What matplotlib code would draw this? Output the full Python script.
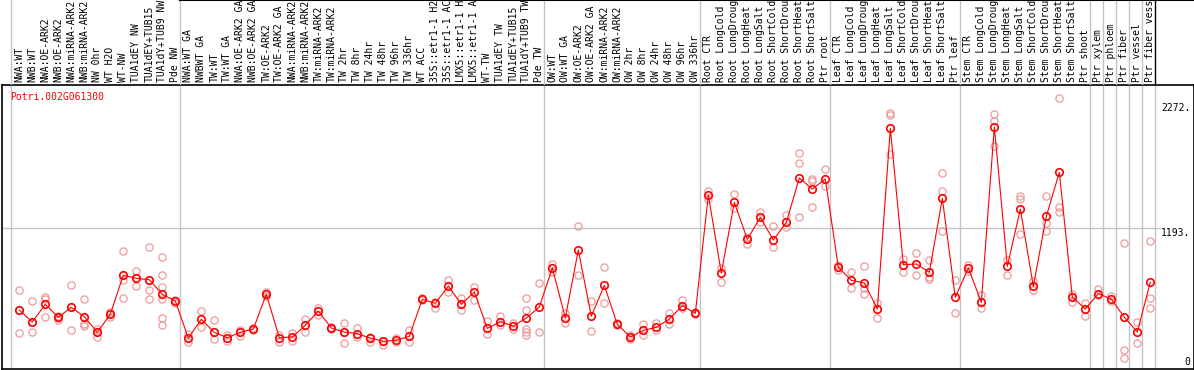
import matplotlib
matplotlib.use("Agg")
import matplotlib.pyplot as plt
from matplotlib.transforms import blended_transform_factory

# ---- data ----
gene = "Potri.002G061300"

labels = [
    "NWA:WT", "NWB:WT", "NWA:OE-ARK2", "NWB:OE-ARK2", "NWA:miRNA-ARK2", "NWB:miRNA-ARK2",
    "NW 0hr", "WT H2O", "WT-NW", "TUA1dEY NW", "TUA1dEY+TUB15", "TUA1dY+TUB9 NW", "Pde NW",
    "NWA:WT GA", "NWBWT GA", "TW:WT", "TW:WT GA", "NWA:OE-ARK2 GA", "NWB:OE-ARK2 GA",
    "TW:OE-ARK2", "TW:OE-ARK2 GA", "NWA:miRNA-ARK2", "NWB:miRNA-ARK2", "TW:miRNA-ARK2",
    "TW:miRNA-ARK2", "TW 2hr", "TW 8hr", "TW 24hr", "TW 48hr", "TW 96hr", "TW 336hr",
    "WT ACC", "35S::etr1-1 H2", "35S::etr1-1 AC", "LMX5::etr1-1 H", "LMX5::etr1-1 A",
    "WT-TW", "TUA1dEY TW", "TUA1dEY+TUB15", "TUA1dY+TUB9 TW", "Pde TW",
    "OW:WT", "OW:WT GA", "OW:OE-ARK2", "OW:OE-ARK2 GA", "OW:miRNA-ARK2", "OW:miRNA-ARK2",
    "OW 2hr", "OW 8hr", "OW 24hr", "OW 48hr", "OW 96hr", "OW 336hr",
    "Root CTR", "Root LongCold", "Root LongDroug", "Root LongHeat", "Root LongSalt",
    "Root ShortCold", "Root ShortDrou", "Root ShortHeat", "Root ShortSalt", "Ptr root",
    "Leaf CTR", "Leaf LongCold", "Leaf LongDroug", "Leaf LongHeat", "Leaf LongSalt",
    "Leaf ShortCold", "Leaf ShortDrou", "Leaf ShortHeat", "Leaf ShortSalt", "Ptr leaf",
    "Stem CTR", "Stem LongCold", "Stem LongDroug", "Stem LongHeat", "Stem LongSalt",
    "Stem ShortCold", "Stem ShortDrou", "Stem ShortHeat", "Stem ShortSalt", "Ptr shoot",
    "Ptr xylem", "Ptr phloem", "Ptr fiber", "Ptr vessel", "Ptr fiber vess",
]

means = [
    490, 387, 539, 427, 513, 432, 298, 453, 788, 762, 750, 625, 567,
    249, 410, 298, 252, 298, 326, 625, 252, 258, 358, 481, 335, 301, 286, 249,
    221, 229, 264, 582, 547, 696, 539, 644, 332, 389, 352, 421, 515,
    851, 421, 1005, 436, 702, 367, 258, 315, 341, 412, 527, 461,
    1478, 808, 1415, 1097, 1286, 1091, 1243, 1624, 1529, 1615,
    857, 745, 722, 498, 2051, 879, 885, 814, 1449, 599,
    851, 556, 2062, 865, 1357, 693, 1295, 1673, 601, 498,
    630, 584, 427, 301, 730,
]

reps = [
    [662, 490, 290], [567, 387, 298], [604, 582, 432], [438, 421, 404],
    [704, 513, 315], [582, 367, 352], [326, 298, 255], [475, 453, 432],
    [999, 747, 595], [825, 762, 696], [1028, 750, 662, 582],
    [942, 788, 690, 587, 418, 358], [576, 547],
    [283, 215], [481, 346], [404, 238], [275, 226], [318, 266], [335, 318],
    [644, 610], [275, 217], [295, 223], [412, 301], [504, 447], [345, 325],
    [381, 301, 204], [338, 260], [260, 215], [226, 186], [247, 215], [318, 217],
    [590, 575], [561, 504], [747, 647], [590, 490], [690, 576], [395, 281],
    [438, 361], [381, 324], [593, 490, 324, 303, 275], [724, 298],
    [882, 819], [461, 381], [1209, 788], [567, 309], [857, 550], [375, 360],
    [275, 238], [367, 275], [381, 318], [466, 369], [576, 504], [470, 455],
    [1515, 1441], [848, 728], [1484, 1363], [1119, 1057], [1332, 1248],
    [1211, 1034], [1306, 1200], [1836, 1750, 1286], [1615, 1598, 1377], [1701, 1555],
    [876, 833], [814, 676], [868, 676, 625], [552, 418], [2185, 2165, 1830],
    [928, 814], [977, 790], [919, 776, 756], [1667, 1515, 1168], [745, 461],
    [879, 827], [621, 507], [2174, 2111, 1896], [922, 788], [1466, 1446, 1143],
    [736, 664], [1466, 1237, 1171], [2308, 1372, 1332], [627, 556], [550, 436],
    [670, 619], [607, 564], [1065, 143, 77], [384, 204], [1080, 593, 507],
]

group_starts = [0, 13, 41, 53, 63, 73, 83, 84, 85, 86, 87, 88]
right_ticks = [2272, 1193, 0]

RED = "#ff0000"
PINK = "#ee9a9a"
GRID = "#c4c4c4"
MONO = "DejaVu Sans Mono"

W, H = 1194, 370
fig = plt.figure(figsize=(W / 100, H / 100), dpi=100)
ax = fig.add_axes([1.5 / W, 1 / H, 1192 / W, 284 / H])
ax_h = fig.add_axes([1.5 / W, 285 / H, 1192 / W, 85 / H])

xmin, xmax = -1.369, 90.32
ax.set_xlim(xmin, xmax)
ax.set_ylim(-17, 2423)
ax_h.set_xlim(xmin, xmax)
ax_h.set_ylim(0, 1)

# group separators
for g in group_starts:
    ax.axvline(g - 0.638, color=GRID, lw=1, zorder=0)
    ax_h.axvline(g - 0.638, color="black" if g == 88 else GRID, lw=1, zorder=0)
ax.axhline(1193, xmax=0.972, color=GRID, lw=1, zorder=0)

# replicates
rx, ry = [], []
for i, r in enumerate(reps):
    rx += [i] * len(r)
    ry += r
ax.plot(rx, ry, "o", ms=5.2, mfc="none", mec=PINK, mew=0.9, zorder=2)

# means
xs = list(range(len(means)))
ax.plot(xs, means, "-", color=RED, lw=0.8, zorder=3)
ax.plot(xs, means, "o", ms=5.4, mfc="none", mec=RED, mew=1.2, zorder=4)

# right side value labels
tr = blended_transform_factory(ax.transAxes, ax.transData)
for v in right_ticks:
    if v == 0:
        ax.text(0.9975, v, "0", transform=tr, ha="right", va="bottom",
                fontsize=7, family=MONO)
    else:
        ax.text(0.9975, v, f"{v}.", transform=tr, ha="right", va="top",
                fontsize=7, family=MONO)

ax.text(0.0072, 0.975, gene, transform=ax.transAxes, ha="left", va="top",
        fontsize=7, family=MONO, color=RED)

ax.set_xticks([])
ax.set_yticks([])
for s in ax.spines.values():
    s.set_linewidth(1.2)

# header with column names
for i, lab in enumerate(labels):
    ax_h.text(i, 0.03, lab, rotation=90, ha="center", va="bottom",
              fontsize=7, family=MONO)
ax_h.axhline(1, xmin=(13 - 0.638 - xmin) / (xmax - xmin), color="black", lw=1.5)
ax_h.axis("off")

fig.savefig("out.png", dpi=100)
